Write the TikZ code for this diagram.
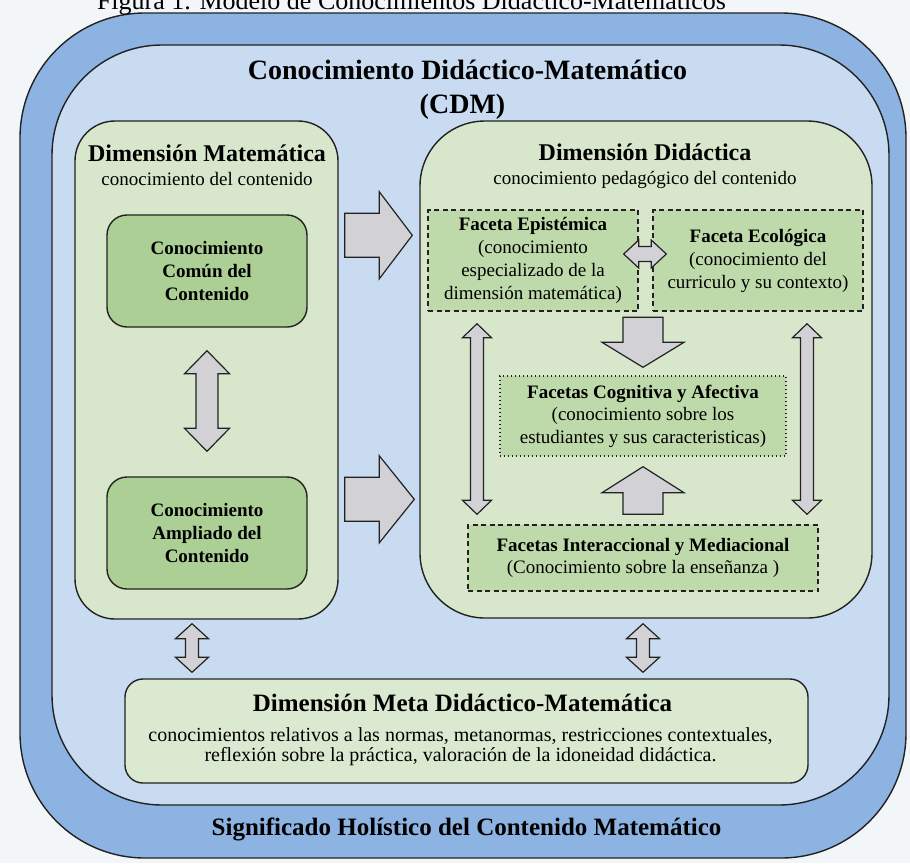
\documentclass[tikz,border=0pt]{standalone}
\usepackage{fontspec}
\setmainfont{Liberation Serif}
\usetikzlibrary{calc}
\definecolor{bandblue}{HTML}{8DB3E2}
\definecolor{innerblue}{HTML}{C8DBF1}
\definecolor{dimgreen}{HTML}{D8E7CC}
\definecolor{knowgreen}{HTML}{ABCF94}
\definecolor{facetgreen}{HTML}{BFDAAA}
\definecolor{metagreen}{HTML}{DCE9D1}
\definecolor{arrowgray}{HTML}{D2D2D6}
\definecolor{bgcol}{HTML}{F3F6F9}
\definecolor{edge}{HTML}{222222}
\newcommand\fs[2]{\fontsize{#1}{#2}\selectfont}
% block arrows: #1,#2 tips/tails, #3 shaft half width, #4 head half width, #5 head length
\newcommand\dblV[5]{\draw[blk] let \p1=(#1), \p2=(#2) in
 (\x1,\y1) -- (\x1+#4,\y1-#5) -- (\x1+#3,\y1-#5) -- (\x1+#3,\y2+#5) -- (\x1+#4,\y2+#5) -- (\x1,\y2)
 -- (\x1-#4,\y2+#5) -- (\x1-#3,\y2+#5) -- (\x1-#3,\y1-#5) -- (\x1-#4,\y1-#5) -- cycle;}
\newcommand\dblH[5]{\draw[blk] let \p1=(#1), \p2=(#2) in
 (\x1,\y1) -- (\x1+#5,\y1+#4) -- (\x1+#5,\y1+#3) -- (\x2-#5,\y1+#3) -- (\x2-#5,\y1+#4) -- (\x2,\y1)
 -- (\x2-#5,\y1-#4) -- (\x2-#5,\y1-#3) -- (\x1+#5,\y1-#3) -- (\x1+#5,\y1-#4) -- cycle;}
\newcommand\sglR[5]{\draw[blk] let \p1=(#1), \p2=(#2) in
 (\x1,\y1+#3) -- (\x2-#5,\y1+#3) -- (\x2-#5,\y1+#4) -- (\x2,\y1) -- (\x2-#5,\y1-#4) -- (\x2-#5,\y1-#3) -- (\x1,\y1-#3) -- cycle;}
\newcommand\sglDown[5]{\draw[blk] let \p1=(#1), \p2=(#2) in
 (\x1+#3,\y1) -- (\x1+#3,\y2+#5) -- (\x1+#4,\y2+#5) -- (\x1,\y2) -- (\x1-#4,\y2+#5) -- (\x1-#3,\y2+#5) -- (\x1-#3,\y1) -- cycle;}
\newcommand\sglUp[5]{\draw[blk] let \p1=(#1), \p2=(#2) in
 (\x1+#3,\y1) -- (\x1+#3,\y2-#5) -- (\x1+#4,\y2-#5) -- (\x1,\y2) -- (\x1-#4,\y2-#5) -- (\x1-#3,\y2-#5) -- (\x1-#3,\y1) -- cycle;}
\begin{document}
\begin{tikzpicture}[x=1pt,y=-1pt,
  box/.style={draw=edge, line width=1.4pt, inner sep=0pt},
  know/.style={box, fill=knowgreen, rounded corners=20pt, minimum width=200pt, minimum height=112pt, align=center, font=\fs{19}{23}\bfseries},
  facet/.style={draw=edge, line width=1.4pt, fill=facetgreen, inner sep=0pt, align=center, font=\fs{19}{23}},
  dashedbox/.style={facet, dash pattern=on 5pt off 3.5pt},
  dottedbox/.style={facet, dash pattern=on 1.4pt off 2.6pt},
  blk/.style={fill=arrowgray, draw=edge, line width=1.2pt, line join=miter},
  ttl/.style={anchor=base, inner sep=0pt}
]
\useasboundingbox (0,0) rectangle (910,863);
\fill[bgcol] (0,0) rectangle (910,863);

% containers
\node[box, fill=bandblue, rounded corners=125pt, minimum width=886pt, minimum height=845pt] (outer) at (463,435.5) {};
\node[box, fill=innerblue, rounded corners=110pt, minimum width=837pt, minimum height=760pt] (inner) at (470.5,425) {};
\node[box, fill=dimgreen, rounded corners=40pt, minimum width=263pt, minimum height=498pt] (mat) at (206.5,370) {};
\node[box, fill=dimgreen, rounded corners=65pt, minimum width=452pt, minimum height=497pt] (did) at (646,369.5) {};
\node[box, fill=metagreen, rounded corners=18pt, minimum width=683pt, minimum height=104pt] (meta) at (466.5,731) {};

% titles
\node[ttl, font=\fs{28}{32}\bfseries] (cdmtitle) at ($(inner.north)+(-3,35)$) {Conocimiento Didáctico-Matemático};
\node[ttl, font=\fs{28}{32}\bfseries] (cdm) at ($(inner.north)+(-8,69)$) {(CDM)};
\node[ttl, font=\fs{24}{28}\bfseries] (mattitle) at ($(mat.north)+(0.5,41)$) {Dimensión Matemática};
\node[ttl, font=\fs{19}{22}] (matsub) at ($(mat.north)+(0.5,65)$) {conocimiento del contenido};
\node[ttl, font=\fs{24}{28}\bfseries] (didtitle) at ($(did.north)+(-1,40)$) {Dimensión Didáctica};
\node[ttl, font=\fs{19}{22}] (didsub) at ($(did.north)+(-1,64)$) {conocimiento pedagógico del contenido};
\node[ttl, font=\fs{25}{30}\bfseries] (metatitle) at ($(meta.north)+(-4,33)$) {Dimensión Meta Didáctico-Matemática};
\node[align=center, inner sep=0pt, font=\fs{20}{20}] (metatext) at ($(meta.center)+(-6,16)$) {conocimientos relativos a las normas, metanormas, restricciones contextuales,\\reflexión sobre la práctica, valoración de la idoneidad didáctica.};
\node[ttl, font=\fs{25}{30}\bfseries] (holis) at ($(outer.south)+(3.5,-23)$) {Significado Holístico del Contenido Matemático};

% knowledge boxes
\node[know] (ccc) at (207,271) {Conocimiento\\Común del\\Contenido};
\node[know] (cac) at (207,533) {Conocimiento\\Ampliado del\\Contenido};

% facets
\node[dashedbox, minimum width=210pt, minimum height=101pt] (epi) at (533,260.5) {\textbf{Faceta Epistémica}\\(conocimiento\\especializado de la\\dimensión matemática)};
\node[dashedbox, minimum width=210pt, minimum height=101pt] (eco) at (758,260.5) {\textbf{Faceta Ecológica}\\(conocimiento del\\curriculo y su contexto)};
\node[dottedbox, minimum width=286pt, minimum height=80pt, font=\fs{19}{22.5}] (cog) at (643,416) {\textbf{Facetas Cognitiva y Afectiva}\\(conocimiento sobre los\\estudiantes y sus caracteristicas)};
\node[dashedbox, minimum width=350pt, minimum height=66pt, font=\fs{19}{22}] (inter) at (643,558) {\textbf{Facetas Interaccional y Mediacional}\\(Conocimiento sobre la enseñanza )};

% arrow end points
\coordinate (v1t) at ($(ccc.south)+(0,23)$);
\coordinate (v1b) at ($(cac.north)+(0,-25)$);
\coordinate (r1s) at ($(mat.north east)+(6,115)$);
\coordinate (r1e) at ($(did.north west)+(-7,115)$);
\coordinate (r2s) at ($(mat.north east)+(6,379)$);
\coordinate (r2e) at ($(did.north west)+(-5,379)$);
\coordinate (h1l) at ($(epi.east)+(-15,-6.5)$);
\coordinate (h1r) at ($(eco.west)+(14,-6.5)$);
\coordinate (d1s) at ($(cog.north)+(0,-58)$);
\coordinate (d1e) at ($(cog.north)+(0,-8)$);
\coordinate (u1s) at ($(inter.north)+(0,-10)$);
\coordinate (u1e) at ($(cog.south)+(0,10)$);
\coordinate (v2t) at ($(epi.south)+(-56,12)$);
\coordinate (v2b) at ($(inter.north)+(-166,-10)$);
\coordinate (v3t) at ($(eco.south)+(49,12)$);
\coordinate (v3b) at ($(inter.north)+(164,-10)$);
\coordinate (s1t) at ($(mat.south)+(-14.5,4)$);
\coordinate (s1b) at ($(meta.north)+(-274.5,-6)$);
\coordinate (s2t) at ($(did.south)+(-3,5)$);
\coordinate (s2b) at ($(meta.north)+(176.5,-6)$);

% arrows
\dblV{v1t}{v1b}{11pt}{22.5pt}{23pt}
\sglR{r1s}{r1e}{22pt}{43.5pt}{33pt}
\sglR{r2s}{r2e}{22pt}{43.5pt}{35pt}
\dblH{h1l}{h1r}{7.5pt}{14pt}{15pt}
\sglDown{d1s}{d1e}{20pt}{41pt}{25pt}
\sglUp{u1s}{u1e}{20pt}{41pt}{26pt}
\dblV{v2t}{v2b}{6.5pt}{14.5pt}{14pt}
\dblV{v3t}{v3b}{6.5pt}{14.5pt}{14pt}
\dblV{s1t}{s1b}{6.5pt}{16.5pt}{15pt}
\dblV{s2t}{s2b}{6.5pt}{16.5pt}{15pt}

% caption (partly cut off at the top)
\node[ttl, font=\fs{26}{30}] (caption) at (411.5,9) {Figura 1. Modelo de Conocimientos Didáctico-Matemáticos};
\end{tikzpicture}
\end{document}
